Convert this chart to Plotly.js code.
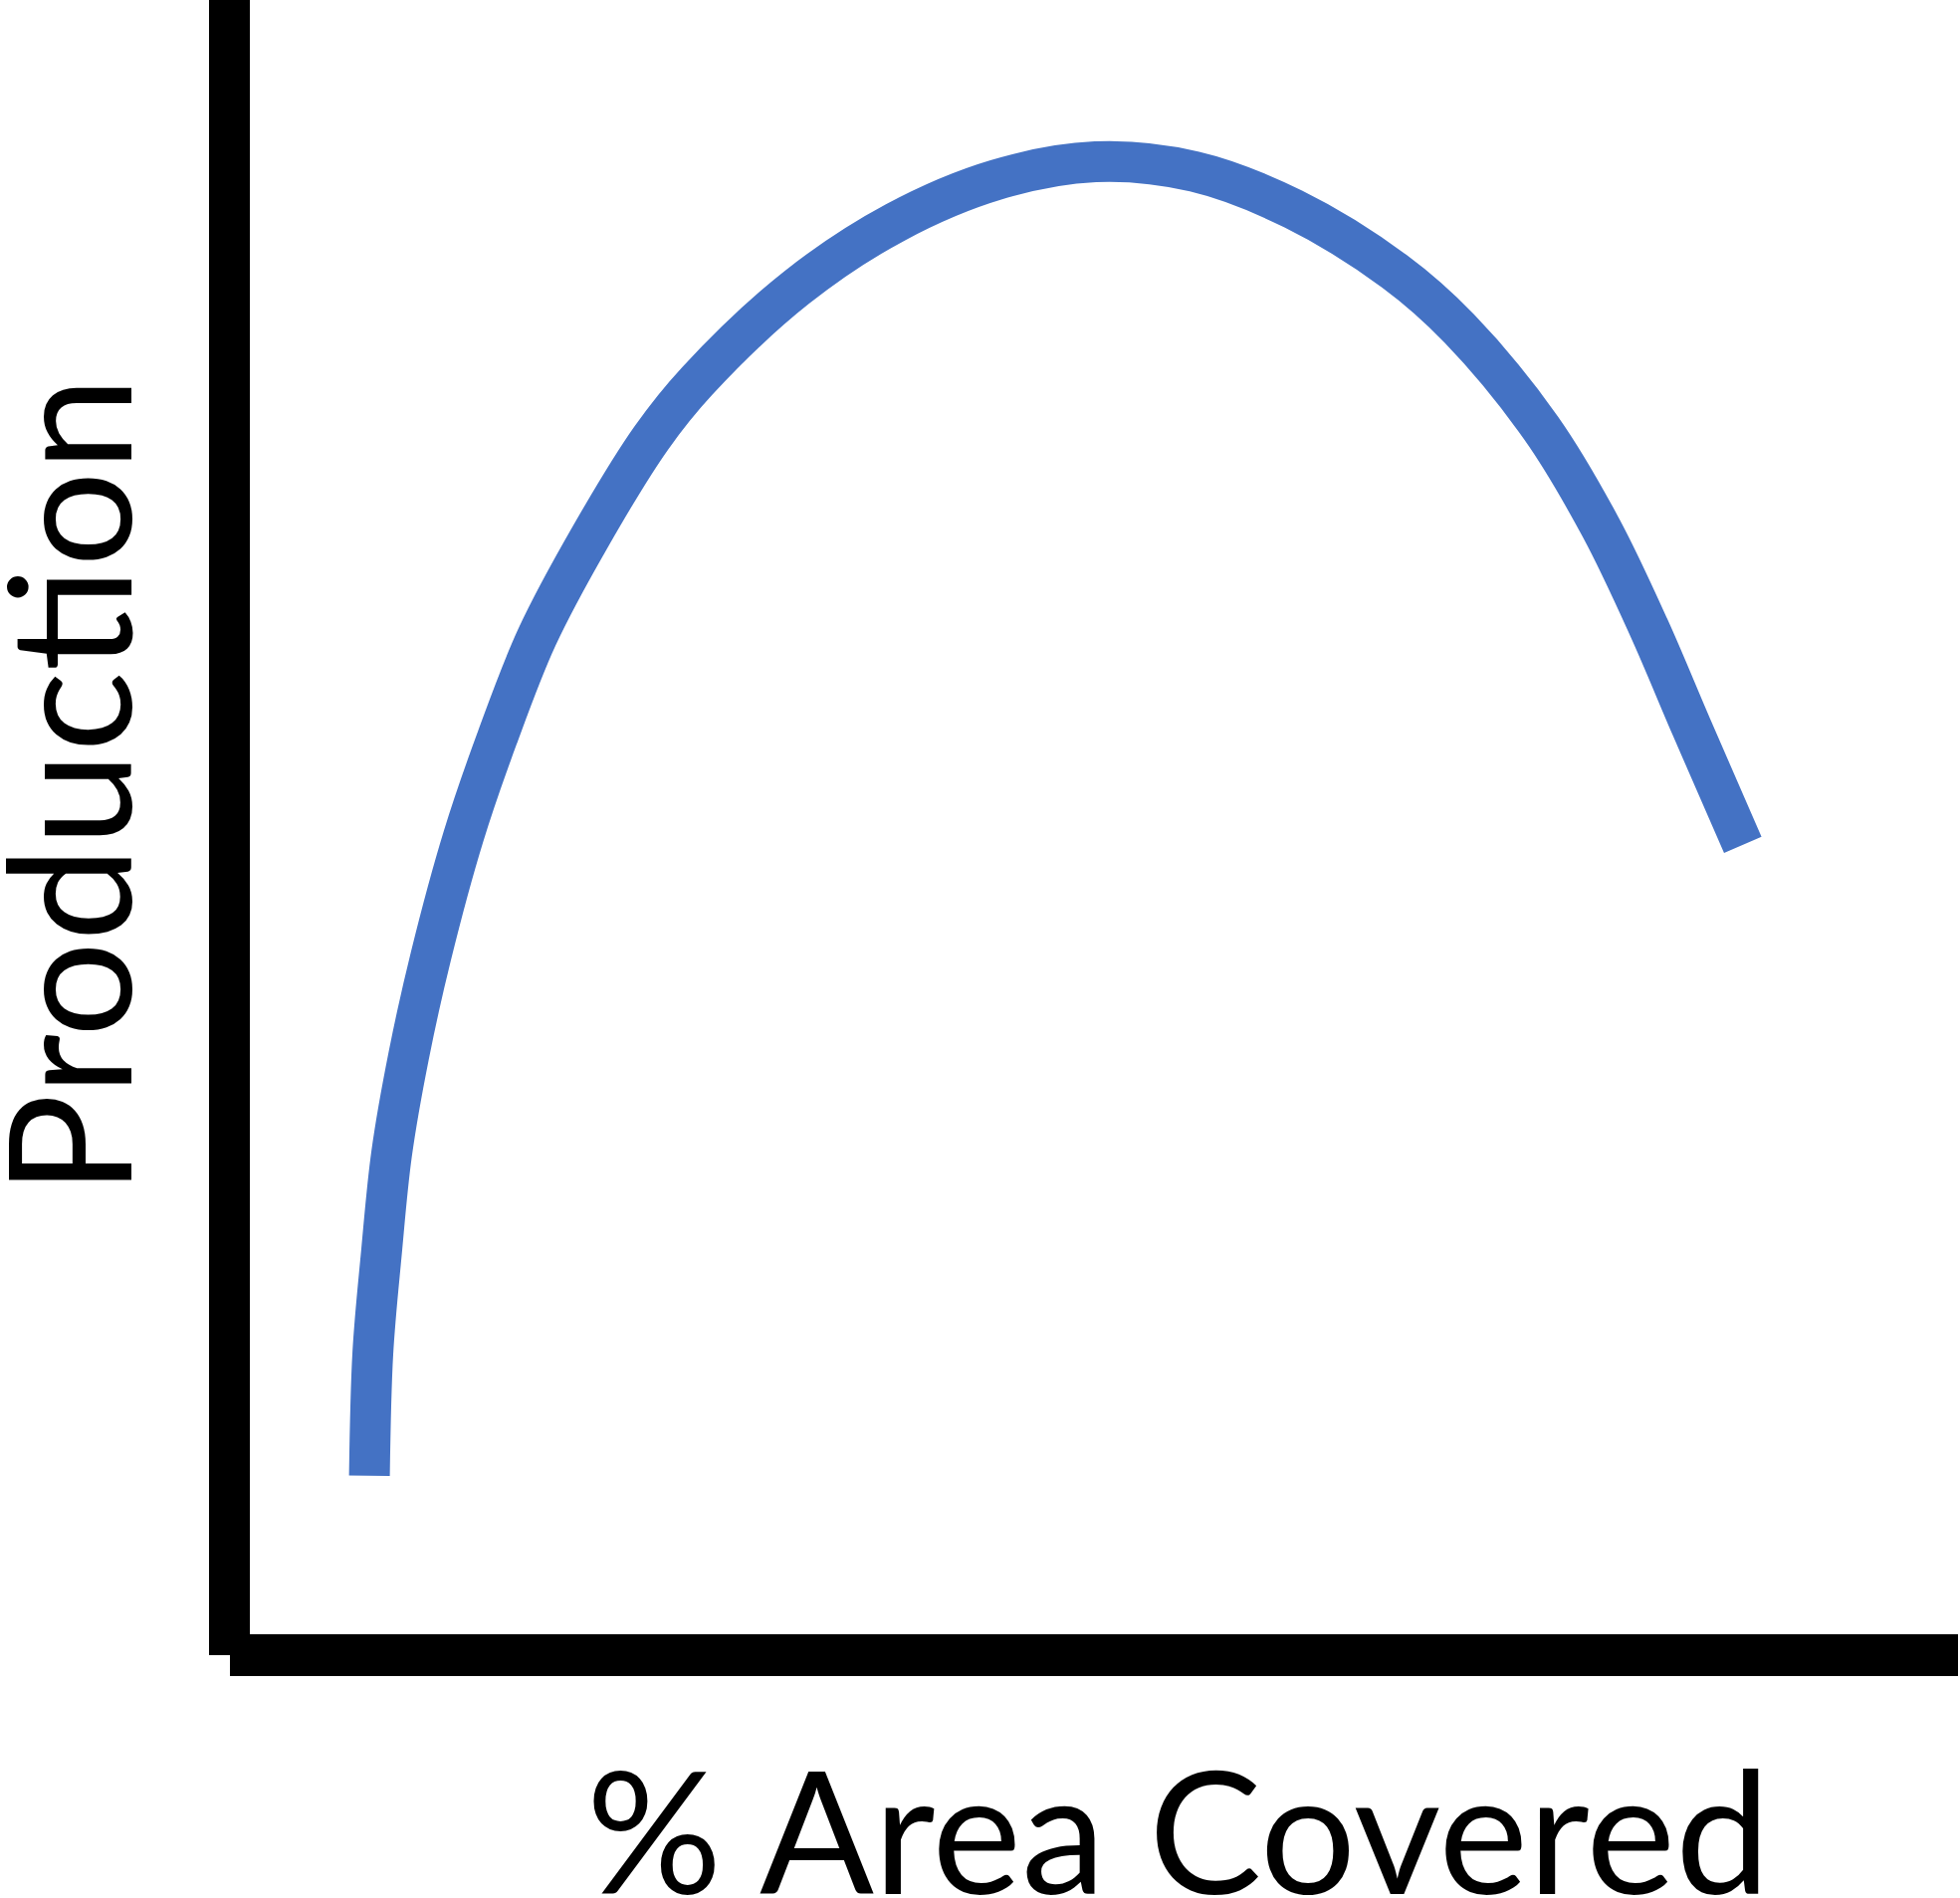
<!DOCTYPE html>
<html>
<head>
<meta charset="utf-8">
<script src="https://cdn.plot.ly/plotly-3.0.1.min.js"></script>
<style>
  html, body { margin: 0; padding: 0; background: #ffffff; }
  #chart { width: 1969px; height: 1907px; }
</style>
</head>
<body>
<div id="chart"></div>
<script>
// ---- Data ----
const coverage   = [7.0, 7.2, 7.7, 8.3, 9.3, 10.6, 12.5, 14.5, 16.8, 19.9, 23.5, 26.2, 32.0, 37.8, 43.7, 49.5, 55.3, 61.1, 67.0, 70.8, 75.6, 79.1, 81.9, 84.4, 87.4];
const production = [9.7, 17.2, 23.3, 29.4, 35.4, 41.5, 48.8, 54.9, 61.0, 67.1, 73.2, 76.7, 82.4, 86.4, 89.0, 90.1, 89.5, 87.2, 83.4, 79.9, 73.8, 67.7, 61.6, 55.5, 48.3];
const xTitle = "% Area Covered";
const yTitle = "Production";

// ---- Layout geometry (pixels) ----
const W = 1969, H = 1907;
const M = { l: 251, r: 2, t: 0, b: 265 };
const PW = W - M.l - M.r;   // plot width
const PH = H - M.t - M.b;   // plot height
const px = v => (v - M.l) / PW;          // page x -> paper x
const py = v => (M.t + PH - v) / PH;     // page y -> paper y

const trace = {
  x: coverage,
  y: production,
  type: 'scatter',
  mode: 'lines',
  line: { color: '#4472C4', width: 41, shape: 'spline', smoothing: 1.0, simplify: false },
  hoverinfo: 'skip',
  showlegend: false
};

const hiddenAxis = {
  range: [0, 100],
  showgrid: false,
  zeroline: false,
  showline: false,
  showticklabels: false,
  ticks: '',
  fixedrange: true
};

const titleFont = { family: 'Lato, "Open Sans", sans-serif', size: 170, color: '#000000' };

const layout = {
  width: W,
  height: H,
  margin: M,
  paper_bgcolor: '#ffffff',
  plot_bgcolor: '#ffffff',
  xaxis: Object.assign({}, hiddenAxis),
  yaxis: Object.assign({}, hiddenAxis),
  shapes: [
    // vertical axis bar
    { type: 'rect', xref: 'paper', yref: 'paper', layer: 'above',
      x0: px(210), x1: px(251), y0: py(1663), y1: py(0),
      fillcolor: '#000000', line: { width: 0 } },
    // horizontal axis bar
    { type: 'rect', xref: 'paper', yref: 'paper', layer: 'above',
      x0: px(231), x1: px(1967), y0: py(1684), y1: py(1642),
      fillcolor: '#000000', line: { width: 0 } }
  ],
  annotations: [
    { text: xTitle, xref: 'paper', yref: 'paper', x: px(1183), y: py(1837),
      xanchor: 'center', yanchor: 'middle', showarrow: false, font: titleFont },
    { text: yTitle, xref: 'paper', yref: 'paper', x: px(66), y: py(790),
      xanchor: 'center', yanchor: 'middle', showarrow: false, textangle: -90, font: titleFont }
  ]
};

Plotly.newPlot('chart', [trace], layout, { staticPlot: true, displayModeBar: false });
</script>
</body>
</html>
